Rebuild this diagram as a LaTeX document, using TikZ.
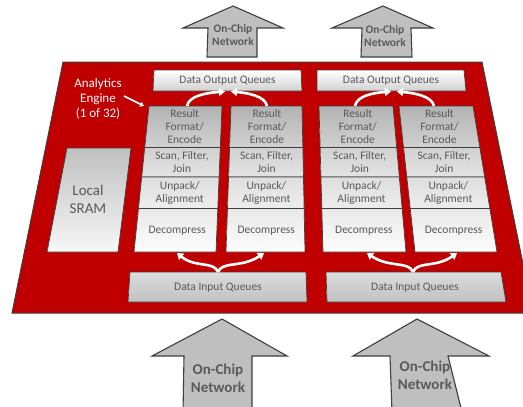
\documentclass[tikz,border=0pt]{standalone}
\usepackage{fontspec}
\setmainfont{Carlito}
\usetikzlibrary{arrows.meta,calc}
\definecolor{eng}{HTML}{C00000}
\definecolor{txt}{HTML}{595959}
\definecolor{edge}{HTML}{3F3F3F}
\definecolor{arrfill}{HTML}{BFBFBF}
\newcommand\segbox[7]{%
  \shade[boxline,top color=black!#5,bottom color=black!#6]
    ($(c#1L)!#3!(c#1l)$) coordinate (p1) -- ($(c#1R)!#3!(c#1r)$) coordinate (p2) --
    ($(c#1R)!#4!(c#1r)$) coordinate (p3) -- ($(c#1L)!#4!(c#1l)$) coordinate (p4) -- cycle;
  \node[lbl] (t#1#2) at ($(p1)!0.5!(p3)$) {#7};}
\newcommand\column[5]{%
  \coordinate (c#1L) at (#2,106);
  \coordinate (c#1R) at (#3,106);
  \coordinate (c#1l) at (#4,252);
  \coordinate (c#1r) at (#5,252);
  \segbox{#1}{a}{0}{0.284}{30}{18}{Result\\Format/\\Encode}
  \segbox{#1}{b}{0.284}{0.486}{18}{11}{Scan, Filter,\\Join}
  \segbox{#1}{c}{0.486}{0.702}{13}{7}{Unpack/\\Alignment}
  \segbox{#1}{d}{0.702}{1}{9}{1}{Decompress}}
\begin{document}
\begin{tikzpicture}[x=1pt,y=-1pt,
  boxline/.style={draw=edge,line width=0.7pt,line join=round},
  lbl/.style={text=txt,font=\fontsize{11.5}{13}\selectfont,align=center,inner sep=0pt},
  netlbl/.style={text=txt,font=\bfseries\fontsize{11.5}{13.5}\selectfont,align=center,inner sep=0pt},
  bignetlbl/.style={text=txt,font=\bfseries\fontsize{15}{18}\selectfont,align=center,inner sep=0pt},
  netarrow/.style={fill=arrfill,draw=edge,line width=1.1pt,line join=miter},
  flow/.style={white,line width=2.6pt,-{Triangle[width=8pt,length=6pt]}},
]
\useasboundingbox (0,0) rectangle (523,407);
\clip (0,0) rectangle (523,407);
\fill[white] (0,0) rectangle (523,407);

% network arrows (top)
\draw[netarrow] (233,6) -- (283,28) -- (257,28) -- (257,57) -- (207,57) -- (208,28) -- (183,28) -- cycle;
\node[netlbl] (nt1) at (233,35) {On-Chip\\Network};
\draw[netarrow] (383,6) -- (433,28) -- (411,28) -- (412,57) -- (361,57) -- (362,28) -- (332,28) -- cycle;
\node[netlbl] (nt2) at (385,36) {On-Chip\\Network};

% engine plate
\fill[eng,draw=edge,line width=1pt] (63,62) -- (482,62) -- (533,313) -- (12,313) -- cycle;
\node[text=white,font=\fontsize{13}{15}\selectfont,align=center,inner sep=0pt] (ae) at (98,99) {Analytics\\Engine\\(1 of 32)};
\coordinate (aeA) at (124,96);
\coordinate (aeB) at (144,106);
\draw[white,line width=1.6pt,-{Triangle[width=5pt,length=4pt]}] (aeA) -- (aeB);

% local SRAM
\shade[boxline,top color=black!25,bottom color=black!3] (67,148) -- (131,148) -- (118,252) -- (47,252) -- cycle;
\node[text=txt,font=\fontsize{15}{18}\selectfont,align=center,inner sep=0pt] (sram) at (88,199) {Local\\SRAM};

% output queues
\shade[boxline,top color=white,bottom color=black!18] (154,70) -- (301,70) -- (302,91) -- (153,91) -- cycle;
\node[lbl] (doq1) at (227.5,80.5) {Data Output Queues};
\shade[boxline,top color=white,bottom color=black!18] (317,70) -- (464,70) -- (466,91) -- (317,91) -- cycle;
\node[lbl] (doq2) at (391,80.5) {Data Output Queues};

% columns
\column{1}{149}{222}{134}{216}
\column{2}{231}{302}{226}{305}
\column{3}{319}{393}{323}{406}
\column{4}{399}{473}{415}{497}

% input queues
\shade[boxline,top color=black!14,middle color=white,bottom color=black!24] (130,272) -- (306,272) -- (307,302) -- (128,302) -- cycle;
\node[lbl] (diq1) at (218,287.5) {Data Input Queues};
\shade[boxline,top color=black!14,middle color=white,bottom color=black!24] (326,272) -- (501,272) -- (506,302) -- (327,302) -- cycle;
\node[lbl] (diq2) at (415,287.5) {Data Input Queues};

% flow arrows up into output queues
\coordinate (o1a) at (187,106);
\coordinate (o1b) at (267,106);
\coordinate (o1L) at (225,91.5);
\coordinate (o1R) at (231,91.5);
\draw[flow] (o1a) .. controls (189,96) and (205,93) .. (o1L);
\draw[flow] (o1b) .. controls (265,96) and (248,93) .. (o1R);
\coordinate (o2a) at (355,106);
\coordinate (o2b) at (434,106);
\coordinate (o2L) at (391,91.5);
\coordinate (o2R) at (397,91.5);
\draw[flow] (o2a) .. controls (357,96) and (372,93) .. (o2L);
\draw[flow] (o2b) .. controls (432,96) and (414,93) .. (o2R);

% flow arrows from input queues
\coordinate (i1) at (218,272);
\coordinate (i1L) at (177,253);
\coordinate (i1R) at (264,253);
\draw[flow] (i1) .. controls (214,261) and (195,268) .. (i1L);
\draw[flow] (i1) .. controls (222,261) and (242,268) .. (i1R);
\coordinate (i2) at (413,272);
\coordinate (i2L) at (367,253);
\coordinate (i2R) at (457,253);
\draw[flow] (i2) .. controls (409,261) and (389,268) .. (i2L);
\draw[flow] (i2) .. controls (417,261) and (436,268) .. (i2R);

% network arrows (bottom)
\draw[netarrow] (222,319) -- (287,356) -- (252,356) -- (252,412) -- (183,412) -- (184,356) -- (152,356) -- cycle;
\node[bignetlbl] (nb1) at (218,378) {On-Chip\\Network};
\draw[netarrow] (417,319) -- (489,356) -- (448,356) -- (462,412) -- (392,412) -- (390,356) -- (353,356) -- cycle;
\node[bignetlbl] (nb2) at (425,375) {On-Chip\\Network};
\end{tikzpicture}
\end{document}
